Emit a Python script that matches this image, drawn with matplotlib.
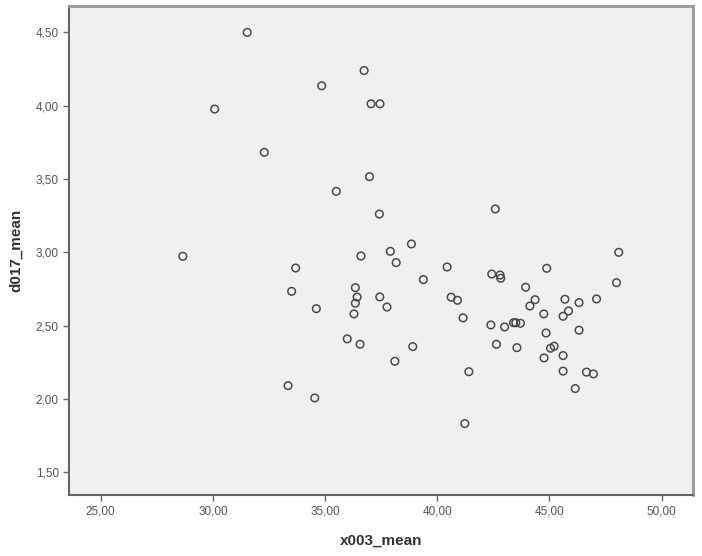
import matplotlib
matplotlib.use("Agg")
import matplotlib.pyplot as plt
from matplotlib.ticker import FuncFormatter

# x003_mean / d017_mean pairs
x003_mean = [31.53, 36.74, 34.85, 30.08, 37.05, 37.45, 32.29, 36.98, 35.50, 37.42,
             28.66, 36.60, 37.91, 33.69, 38.17,
             33.51, 36.35, 36.43, 36.35, 36.29, 37.44, 37.76, 34.61, 35.99, 36.56,
             38.11, 33.35, 34.54,
             42.59, 38.85, 40.44, 39.38, 48.09, 47.99, 42.43, 42.80, 42.83, 44.88,
             43.94, 40.62, 40.90, 44.36, 44.13, 45.69, 46.32, 47.10, 45.85, 45.61,
             44.75, 41.15, 42.39, 43.00, 43.40, 43.50, 43.71, 46.32, 44.85, 38.91,
             42.64, 43.55, 45.05, 45.21, 44.76, 45.61, 45.61, 46.65, 46.96, 46.15,
             41.41, 41.23]
d017_mean = [4.50, 4.24, 4.136, 3.977, 4.013, 4.013, 3.682, 3.516, 3.416, 3.261,
             2.973, 2.975, 3.007, 2.893, 2.93,
             2.734, 2.759, 2.695, 2.653, 2.58, 2.696, 2.627, 2.616, 2.41, 2.373,
             2.257, 2.091, 2.007,
             3.296, 3.057, 2.90, 2.814, 3.0, 2.793, 2.852, 2.845, 2.823, 2.891,
             2.762, 2.694, 2.673, 2.677, 2.634, 2.68, 2.657, 2.682, 2.60, 2.564,
             2.58, 2.553, 2.505, 2.491, 2.52, 2.52, 2.516, 2.469, 2.45, 2.357,
             2.373, 2.35, 2.346, 2.36, 2.28, 2.296, 2.19, 2.183, 2.171, 2.071,
             2.186, 1.832]

x_ticks = [25, 30, 35, 40, 45, 50]
y_ticks = [1.5, 2.0, 2.5, 3.0, 3.5, 4.0, 4.5]

plt.rcParams['font.family'] = ['Liberation Sans Narrow', 'Liberation Sans', 'DejaVu Sans']

fig = plt.figure(figsize=(7.02, 5.56), dpi=100)
ax = fig.add_axes([0.0987, 0.1097, 0.8885, 0.8795])
ax.set_facecolor("#f0f0f0")

ax.scatter(x003_mean, d017_mean, s=30, facecolors="none", edgecolors="#4a4a4a",
           linewidths=1.1, zorder=3)

ax.set_xlim(23.6, 51.4)
ax.set_ylim(1.345, 4.68)
ax.set_xticks(x_ticks)
ax.set_yticks(y_ticks)
comma = FuncFormatter(lambda v, pos: f"{v:.2f}".replace(".", ","))
ax.xaxis.set_major_formatter(comma)
ax.yaxis.set_major_formatter(comma)
ax.tick_params(direction="out", length=4, width=1, colors="#666666",
               labelsize=8.5, labelcolor="#555555")

for side in ["left", "bottom"]:
    ax.spines[side].set_color("#666666")
    ax.spines[side].set_linewidth(1.5)
for side in ["top", "right"]:
    ax.spines[side].set_color("#999999")
    ax.spines[side].set_linewidth(2)

ax.set_xlabel("x003_mean", fontsize=11, fontweight="bold", color="#333333",
              family=['Liberation Sans', 'DejaVu Sans'], labelpad=12)
ax.set_ylabel("d017_mean", fontsize=11, fontweight="bold", color="#333333",
              family=['Liberation Sans', 'DejaVu Sans'], labelpad=9)

fig.savefig("out.png", dpi=100)
